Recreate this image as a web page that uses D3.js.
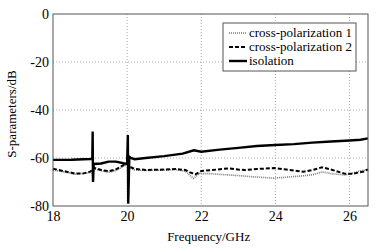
<!DOCTYPE html>
<html>
<head>
<meta charset="utf-8">
<script src="https://cdn.jsdelivr.net/npm/d3@7"></script>
<style>
  body { margin: 0; background: #fff; }
</style>
</head>
<body>
<div id="chart"></div>
<script>
var w = 378;
var h = 248;
var margin = { top: 14, right: 10, bottom: 42, left: 53 };
var width = w - margin.left - margin.right;
var height = h - margin.top - margin.bottom;
var serif = "Liberation Serif";

// Data (GHz, dB)
var isoFreq = [18, 18.5, 19.0, 19.06, 19.07, 19.08, 19.1, 19.3, 19.5, 19.7, 19.9, 20.0, 20.02, 20.03, 20.06, 20.1, 20.2, 20.5, 21.0, 21.5, 21.8, 22.0, 22.5, 23.0, 23.5, 24.0, 24.5, 25.0, 25.5, 26.0, 26.3, 26.5];
var isoVal = [-60.8, -60.7, -60.4, -60.3, -49, -70, -62.5, -62.3, -61.5, -61.5, -62.2, -62.5, -50.4, -79, -59.5, -60, -60.5, -60, -59.2, -58.2, -56.8, -57.4, -56.5, -55.8, -55, -54.6, -54.2, -53.6, -53.1, -52.7, -52.4, -51.8];

var cp2Freq = [18, 18.3, 18.6, 18.8, 19.0, 19.07, 19.1, 19.3, 19.5, 19.7, 19.9, 20.0, 20.05, 20.2, 20.5, 21.0, 21.3, 21.57, 21.7, 21.84, 22.0, 22.3, 22.74, 23.0, 23.19, 23.5, 23.95, 24.3, 24.76, 25.0, 25.26, 25.5, 25.89, 26.1, 26.39, 26.5];
var cp2Val = [-64.5, -65.5, -66.5, -66.5, -65.7, -65, -64, -65, -65.5, -64.7, -63, -62.3, -63.5, -64.5, -65, -64.8, -64.6, -65, -66, -66.8, -65.4, -65, -64.3, -64.8, -65, -64.6, -64.2, -64.8, -65.7, -65, -63.9, -64.8, -66.6, -66.5, -65.6, -64.7];

var cp1Freq = [18, 18.3, 18.6, 18.9, 19.05, 19.07, 19.1, 19.3, 19.5, 19.7, 19.9, 20.0, 20.05, 20.2, 20.5, 21.0, 21.3, 21.57, 21.79, 21.95, 22.2, 22.46, 23.0, 23.37, 23.95, 24.3, 24.76, 25.0, 25.26, 25.5, 25.89, 26.1, 26.3, 26.5];
var cp1Val = [-65, -65.8, -66.7, -66.3, -66, -68, -64.5, -65.3, -66, -65.2, -63.5, -62.5, -64, -65, -65.2, -65, -64.8, -65.5, -68.5, -66.5, -66.5, -66.8, -67.3, -67.8, -68.4, -68, -67.4, -67, -65.8, -66.5, -67.1, -66.3, -65.3, -65];

var xTicks = [18, 20, 22, 24, 26];
var yTicks = [0, -20, -40, -60, -80];
var legendNames = ["cross-polarization 1", "cross-polarization 2", "isolation"];

function zip(xs, ys) {
    return xs.map(function(x, i) { return { f: x, v: ys[i] }; });
}
var series = [
    { name: legendNames[0], data: zip(cp1Freq, cp1Val), stroke: "#777", width: 1.6, dash: "1,1" },
    { name: legendNames[1], data: zip(cp2Freq, cp2Val), stroke: "#000", width: 2, dash: "4,2" },
    { name: legendNames[2], data: zip(isoFreq, isoVal), stroke: "#000", width: 2.4, dash: null }
];

var xScale = d3.scaleLinear().domain([18, 26.5]).range([0, width]);
var yScale = d3.scaleLinear().domain([-80, 0]).range([height, 0]);

var svg = d3.select("#chart")
    .append("svg")
    .attr("width", w)
    .attr("height", h)
    .append("g")
    .attr("transform", "translate(" + margin.left + "," + margin.top + ")");

// grid
svg.selectAll(".vgrid")
    .data(xTicks.slice(1))
    .enter().append("line")
    .attr("x1", function(d) { return xScale(d); })
    .attr("x2", function(d) { return xScale(d); })
    .attr("y1", 0).attr("y2", height)
    .attr("stroke", "#aaa").attr("stroke-width", 1).attr("stroke-dasharray", "1,2");

svg.selectAll(".hgrid")
    .data(yTicks.slice(1, 4))
    .enter().append("line")
    .attr("x1", 0).attr("x2", width)
    .attr("y1", function(d) { return yScale(d); })
    .attr("y2", function(d) { return yScale(d); })
    .attr("stroke", "#aaa").attr("stroke-width", 1).attr("stroke-dasharray", "1,2");

// lines
var line = d3.line()
    .x(function(d) { return xScale(d.f); })
    .y(function(d) { return yScale(d.v); });

series.forEach(function(s) {
    svg.append("path")
        .datum(s.data)
        .attr("d", line)
        .attr("fill", "none")
        .attr("stroke", s.stroke)
        .attr("stroke-width", s.width)
        .attr("stroke-dasharray", s.dash);
});

// frame
svg.append("rect")
    .attr("x", 0).attr("y", 0)
    .attr("width", width).attr("height", height)
    .attr("fill", "none").attr("stroke", "#555").attr("stroke-width", 1);

// axes (plain hyphen for negatives, like the original)
var fmt = function(d) { return String(d); };
var xAxis = svg.append("g")
    .attr("transform", "translate(0," + height + ")")
    .call(d3.axisBottom(xScale).tickValues(xTicks).tickFormat(fmt).tickSize(0).tickPadding(5));
var yAxis = svg.append("g")
    .call(d3.axisLeft(yScale).tickValues(yTicks).tickFormat(fmt).tickSize(0).tickPadding(4));
[xAxis, yAxis].forEach(function(a) {
    a.attr("font-family", serif).attr("font-size", 14);
    a.select(".domain").remove();
    a.selectAll("text").attr("fill", "#000");
});

// axis titles
svg.append("text")
    .attr("x", xScale(22.2))
    .attr("y", height + 35)
    .attr("text-anchor", "middle")
    .attr("font-family", serif)
    .attr("font-size", 13)
    .text("Frequency/GHz");

svg.append("text")
    .attr("transform", "translate(" + (-37) + "," + (height / 2 + 4) + ") rotate(-90)")
    .attr("text-anchor", "middle")
    .attr("font-family", serif)
    .attr("font-size", 13)
    .text("S-parameters/dB");

// legend
var legend = svg.append("g").attr("transform", "translate(170,9)");
legend.append("rect")
    .attr("width", 133).attr("height", 48)
    .attr("fill", "#fff").attr("stroke", "#555").attr("stroke-width", 1);
series.forEach(function(s, i) {
    var y = 10 + i * 14;
    legend.append("line")
        .attr("x1", 6).attr("x2", 24)
        .attr("y1", y).attr("y2", y)
        .attr("stroke", s.stroke)
        .attr("stroke-width", s.width)
        .attr("stroke-dasharray", s.dash);
    legend.append("text")
        .attr("x", 26).attr("y", y + 4)
        .attr("font-family", serif)
        .attr("font-size", 13)
        .text(s.name);
});
</script>
</body>
</html>
